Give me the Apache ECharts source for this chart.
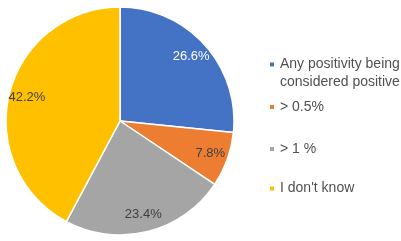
<!DOCTYPE html>
<html>
<head>
<meta charset="utf-8">
<script src="https://cdn.jsdelivr.net/npm/echarts@6/dist/echarts.min.js"></script>
<style>
  html, body { margin: 0; padding: 0; background: #fff; }
  #chart { width: 401px; height: 241px; }
</style>
</head>
<body>
<div id="chart"></div>
<script>
// categories and values
var categories = ['Any positivity being considered positive', '> 0.5%', '> 1 %', "I don't know"];
// leading blank line keeps the marker level with the first text line
var legendLabels = [' \nAny positivity being\nconsidered positive', '> 0.5%', '> 1 %', "I don't know"];
var values = [26.6, 7.8, 23.4, 42.2];

var colors = ['#4472C4', '#ED7D31', '#A5A5A5', '#FFC000'];
var labelColors = ['#ffffff', '#404040', '#404040', '#404040'];
var legendTops = [37.5, 98, 140, 179.5];
var font = '"Liberation Sans", Arial, sans-serif';

var myChart = echarts.init(document.getElementById('chart'));

var pieData = values.map(function (v, i) {
    return { name: categories[i], value: v };
});
// label ring, sits inside the pie so the labels land near the rim
var labelData = values.map(function (v, i) {
    return { name: categories[i], value: v, label: { color: labelColors[i] } };
});

var legends = categories.map(function (name, i) {
    return {
        orient: 'vertical',
        left: 268,
        top: legendTops[i],
        padding: 0,
        icon: 'rect',
        itemWidth: 6,
        itemHeight: 6,
        data: [name],
        formatter: function (n) { return legendLabels[categories.indexOf(n)]; },
        textStyle: { fontSize: 14, color: '#505050', fontFamily: font, lineHeight: 18 }
    };
});

var option = {
    animation: false,
    color: colors,
    legend: legends,
    series: [
        {
            name: 'main',
            type: 'pie',
            center: [120, 121],
            radius: 114,
            startAngle: 90,
            clockwise: true,
            avoidLabelOverlap: false,
            label: { show: false },
            labelLine: { show: false },
            itemStyle: { borderColor: '#ffffff', borderWidth: 1.5 },
            emphasis: { scale: false },
            data: pieData
        },
        {
            name: 'labels',
            type: 'pie',
            center: [120, 121],
            radius: [78, 108],
            startAngle: 90,
            clockwise: true,
            silent: true,
            avoidLabelOverlap: false,
            itemStyle: { color: 'rgba(0,0,0,0)' },
            label: {
                show: true,
                position: 'inside',
                fontSize: 13,
                fontFamily: font,
                formatter: function (p) { return p.value.toFixed(1) + '%'; }
            },
            labelLine: { show: false },
            emphasis: { disabled: true },
            data: labelData
        }
    ]
};
myChart.setOption(option);
</script>
</body>
</html>
